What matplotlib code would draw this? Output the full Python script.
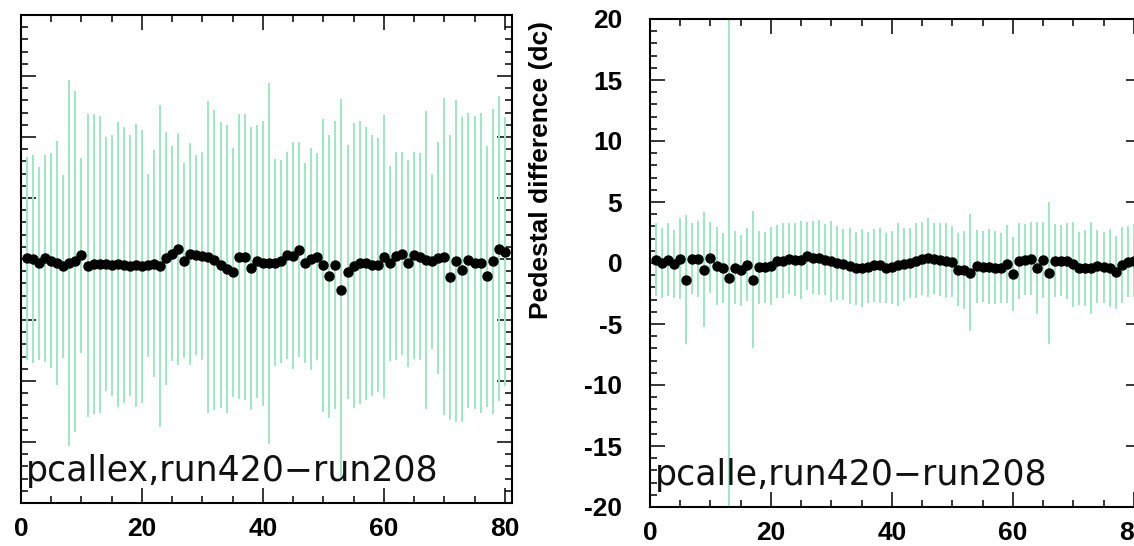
import numpy as np
import matplotlib.pyplot as plt
from matplotlib.ticker import MultipleLocator

plt.rcParams['axes.unicode_minus'] = False
plt.rcParams['font.family'] = ['Liberation Sans', 'DejaVu Sans']

channels = np.arange(1, 81)

# pcallex, run420 - run208
left_vals = [0.05, 0.0, -0.35, 0.05, -0.15, -0.35, -0.6, -0.35, -0.2, 0.3,
             -0.55, -0.4, -0.45, -0.4, -0.5, -0.45, -0.5, -0.55, -0.5, -0.6,
             -0.5, -0.4, -0.6, 0.05, 0.45, 0.8, -0.15, 0.4, 0.3, 0.25,
             0.15, -0.1, -0.5, -0.85, -1.1, 0.2, 0.15, -0.75, -0.2, -0.35,
             -0.35, -0.3, -0.2, 0.3, 0.25, 0.75, -0.35, 0.0, 0.2, -0.5,
             -1.4, -0.5, -2.5, -1.05, -0.55, -0.3, -0.35, -0.5, -0.5, 0.2,
             -0.35, 0.25, 0.45, -0.35, 0.3, 0.2, -0.1, -0.2, 0.05, 0.2,
             -1.5, -0.2, -0.9, -0.1, -0.3, -0.35, -1.4, -0.2, 0.85, 0.6]
left_errs = [8.3, 8.5, 7.9, 8.5, 8.8, 10.0, 7.5, 15.0, 14.0, 8.0,
             12.4, 12.3, 12.2, 10.4, 10.7, 11.7, 11.3, 10.7, 11.6, 11.2,
             7.5, 9.3, 13.2, 10.4, 8.8, 9.5, 8.0, 9.1, 8.2, 8.5,
             12.8, 12.3, 11.7, 11.8, 10.2, 11.7, 11.7, 11.6, 11.2, 11.7,
             14.8, 8.5, 8.3, 8.5, 9.3, 8.8, 8.2, 9.1, 8.5, 12.0,
             11.6, 11.8, 15.6, 10.4, 11.7, 11.6, 11.2, 10.7, 10.4, 11.6,
             8.0, 8.5, 8.3, 8.5, 8.5, 8.5, 12.2, 7.2, 9.5, 13.0,
             11.7, 13.2, 12.5, 12.1, 12.0, 12.3, 10.7, 12.5, 12.5, 11.0]

# pcalle, run420 - run208
right_vals = [0.27, 0.0, 0.27, -0.1, 0.35, -1.37, 0.35, 0.35, -0.55, 0.45,
              -0.27, -0.4, -1.23, -0.4, -0.6, -0.15, -1.37, -0.35, -0.35, -0.27,
              0.14, 0.2, 0.35, 0.27, 0.27, 0.55, 0.45, 0.45, 0.27, 0.14,
              0.0, -0.1, -0.27, -0.45, -0.4, -0.35, -0.2, -0.2, -0.4, -0.35,
              -0.15, -0.1, 0.0, 0.2, 0.35, 0.45, 0.35, 0.27, 0.2, 0.1,
              -0.55, -0.6, -0.8, -0.27, -0.3, -0.3, -0.4, -0.4, -0.1, -0.9,
              0.14, 0.27, 0.35, -0.4, 0.27, -0.8, 0.2, 0.2, 0.14, -0.1,
              -0.45, -0.4, -0.4, -0.27, -0.35, -0.4, -0.75, -0.15, 0.1, 0.2]
right_errs = [3.0, 2.9, 3.0, 2.8, 3.3, 5.3, 2.9, 3.1, 4.7, 2.9,
              3.2, 2.9, 21.5, 3.0, 2.9, 3.0, 5.6, 3.0, 2.9, 3.2,
              3.0, 3.1, 2.9, 3.0, 3.2, 2.8, 3.0, 3.1, 2.9, 3.3,
              3.0, 2.9, 3.1, 3.0, 3.2, 2.9, 3.0, 3.1, 2.9, 3.0,
              3.4, 3.0, 2.9, 3.1, 3.0, 3.2, 2.9, 3.0, 3.1, 2.9,
              3.0, 3.2, 4.8, 3.0, 2.9, 3.1, 3.0, 2.9, 3.2, 3.0,
              3.1, 2.9, 3.0, 3.8, 3.1, 5.8, 3.0, 2.9, 3.1, 3.5,
              3.0, 3.1, 3.8, 3.0, 2.9, 3.2, 3.0, 3.1, 2.9, 3.0]

fig = plt.figure(figsize=(11.34, 5.46), dpi=100)
ax1 = fig.add_axes([21 / 1134, 43 / 546, 491 / 1134, 488 / 546])
ax2 = fig.add_axes([650 / 1134, 39 / 546, 491 / 1134, 488 / 546])

panels = [(ax1, left_vals, left_errs, 'pcallex,run420\u2212run208'),
          (ax2, right_vals, right_errs, 'pcalle,run420\u2212run208')]

for ax, vals, errs, label in panels:
    ax.errorbar(channels, vals, yerr=errs, fmt='o', color='black', ms=6.5,
                ecolor='#9de8c2', elinewidth=1.4, capsize=0)
    ax.set_xlim(0, 81.2)
    ax.set_ylim(-20, 20)
    ax.xaxis.set_major_locator(MultipleLocator(20))
    ax.xaxis.set_minor_locator(MultipleLocator(5))
    ax.yaxis.set_major_locator(MultipleLocator(5))
    ax.yaxis.set_minor_locator(MultipleLocator(1))
    ax.tick_params(which='both', direction='in', top=True, right=True, width=1.1)
    ax.tick_params(which='major', length=11, pad=10, labelsize=19)
    ax.tick_params(which='minor', length=5)
    for lab in ax.get_xticklabels() + ax.get_yticklabels():
        lab.set_fontweight('bold')
    for sp in ax.spines.values():
        sp.set_linewidth(1.5)
    ax.text(0.01, 0.045, label, transform=ax.transAxes, fontsize=25,
            family='DejaVu Sans', ha='left', va='baseline', color='#111111')

ax1.tick_params(labelleft=False)
ax2.tick_params(axis='y', pad=20)

fig.text(541 / 1134, 1 - 170 / 546, 'Pedestal difference (dc)', rotation=90,
         ha='center', va='center', fontsize=19, fontweight='bold')

fig.savefig('out.png', dpi=100)
